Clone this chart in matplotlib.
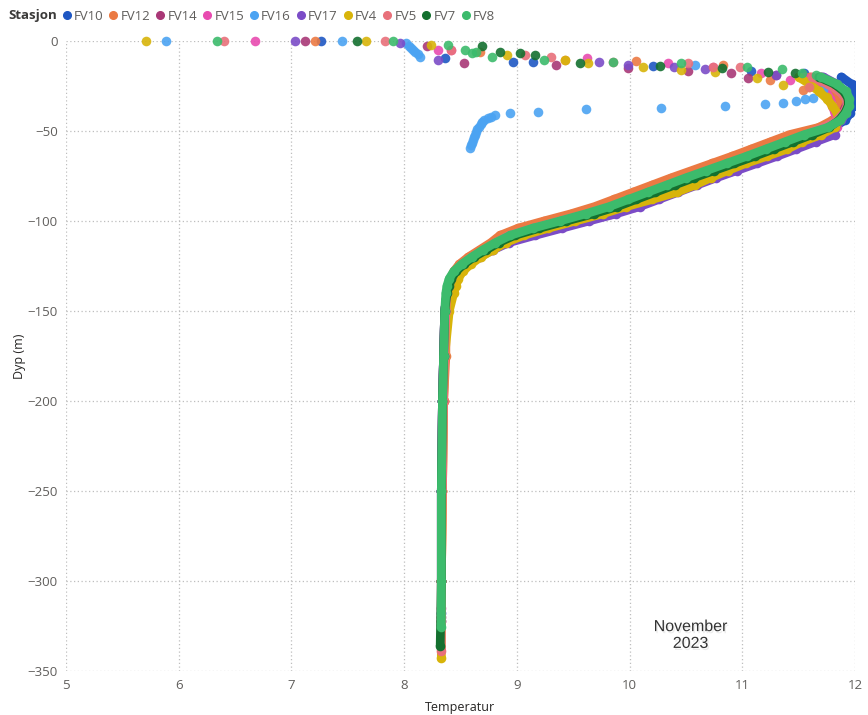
import matplotlib.pyplot as plt
import matplotlib.patheffects as pe
from matplotlib.lines import Line2D

plt.rcParams['font.family'] = ['Open Sans', 'DejaVu Sans']

stasjoner = ['FV10', 'FV12', 'FV14', 'FV15', 'FV16', 'FV17', 'FV4', 'FV5', 'FV7', 'FV8']
farger = ['#1F57C3', '#EB7A43', '#A93877', '#E84BB0', '#4BA3F2',
          '#7B4CC7', '#D8B40A', '#E8707A', '#14702F', '#3CBB6C']

# overflatelaget (0 til ca -30 m), enkeltmålinger
fv10_ov_t = [7.26, 8.36, 8.97, 9.14, 10.21, 11.08, 11.55]
fv10_ov_d = [0, -9.5, -11.5, -11.5, -13.9, -16.5, -18]
fv12_ov_t = [7.21, 8.67, 9.43, 10.06, 10.83, 11.25, 11.54, 11.68]
fv12_ov_d = [0, -5.9, -10.5, -11.2, -13.3, -21.7, -27, -23.5]
fv14_ov_t = [7.12, 8.20, 8.53, 9.35, 9.99, 10.52, 10.90, 11.05, 11.30]
fv14_ov_d = [0, -3, -12.4, -13.3, -15, -16.5, -18, -20.7, -18.9]
fv15_ov_t = [6.68, 8.30, 8.42, 9.62, 10.34, 10.74, 11.17, 11.42]
fv15_ov_d = [0, -5, -5, -9.6, -12.4, -14.3, -18, -21.7]
fv16_ov_t = [5.89, 7.45, 8.02, 8.04, 8.06, 8.08, 8.10, 8.12, 8.14, 10.58, 11.72,
             11.63, 11.56, 11.48, 11.36, 11.20, 10.85, 10.28, 9.61, 9.19, 8.94, 8.81,
             8.77, 8.74, 8.71, 8.69, 8.68, 8.66, 8.65, 8.64, 8.63, 8.62, 8.61, 8.60,
             8.59, 8.58]
fv16_ov_d = [0, 0, -1.3, -2.5, -3.8, -5, -6.2, -7.4, -8.7, -13.3, -27,
             -31.5, -32.4, -33.3, -34.3, -35.2, -36.1, -37, -38, -39.3, -40.2, -41,
             -42, -43, -44, -45, -46, -47.5, -49, -50.5, -52, -53.5, -55, -56.5,
             -58, -59.5]
fv17_ov_t = [7.03, 7.96, 8.30, 9.73, 9.99, 10.39, 10.67, 11.30]
fv17_ov_d = [0, -1, -10.5, -11.8, -13.3, -14.3, -15.7, -18.9]
fv4_ov_t = [5.71, 7.66, 8.24, 8.91, 9.43, 9.63, 10.12, 10.46, 10.76, 11.13, 11.36,
            11.59, 11.68, 11.75]
fv4_ov_d = [0, 0, -2.2, -7.8, -10.5, -12.4, -14.6, -16, -17, -20.7, -24.4,
            -25.4, -28, -31]
fv5_ov_t = [6.40, 7.83, 8.42, 9.07, 9.30, 9.85, 10.52, 10.74, 10.98, 11.59]
fv5_ov_d = [0, 0, -5, -7.8, -8.7, -11.5, -12.4, -14.3, -14.3, -25.4]
fv7_ov_t = [7.58, 8.69, 8.85, 9.03, 9.16, 9.56, 10.27, 10.82, 11.23, 11.47]
fv7_ov_d = [0, -3, -6, -6.8, -7.8, -12.4, -13.7, -15.2, -17, -17.6]
fv8_ov_t = [6.34, 7.90, 8.39, 8.54, 8.60, 8.64, 8.78, 9.24, 9.85, 10.46, 11.04,
            11.35, 11.53, 11.65]
fv8_ov_d = [0, 0, -2, -5, -6.8, -6, -8.7, -10.5, -11.5, -12.4, -14.3,
            -15.7, -17.6, -18.9]

# tett profil fra -20 m og ned
dyp_profil = [-20, -24, -28, -32, -36, -40, -44, -48, -52, -56, -60, -64, -68,
              -72, -76, -80, -84, -88, -92, -96, -100, -104, -108, -112, -116,
              -120, -124, -128, -132, -136, -140, -150, -175, -200, -250, -300]

fv10_profil = [11.88, 11.97, 12.00, 12.00, 11.99, 11.96, 11.91, 11.81,
               11.64, 11.47, 11.30, 11.13, 10.95, 10.77, 10.59, 10.42, 10.25, 10.08,
               9.91, 9.70, 9.46, 9.22, 9.00, 8.85, 8.74, 8.63, 8.54,
               8.46, 8.42, 8.40, 8.38, 8.36, 8.35, 8.34, 8.33, 8.33]
fv12_profil = [11.60, 11.70, 11.80, 11.86, 11.88, 11.86, 11.80, 11.68,
               11.42, 11.25, 11.08, 10.91, 10.73, 10.55, 10.37, 10.20, 10.03, 9.86,
               9.69, 9.48, 9.24, 9.01, 8.85, 8.77, 8.67, 8.57, 8.49,
               8.44, 8.41, 8.39, 8.38, 8.37, 8.37, 8.35, 8.34, 8.33]
fv14_profil = [11.70, 11.82, 11.90, 11.93, 11.92, 11.89, 11.84, 11.76,
               11.68, 11.51, 11.34, 11.17, 10.99, 10.81, 10.63, 10.46, 10.29, 10.12,
               9.95, 9.74, 9.50, 9.26, 9.04, 8.88, 8.76, 8.65, 8.55,
               8.47, 8.43, 8.40, 8.38, 8.36, 8.35, 8.34, 8.33, 8.33]
fv15_profil = [11.55, 11.68, 11.74, 11.78, 11.80, 11.82, 11.86, 11.84,
               11.77, 11.60, 11.43, 11.26, 11.08, 10.90, 10.72, 10.55, 10.38, 10.21,
               10.04, 9.83, 9.59, 9.35, 9.11, 8.90, 8.78, 8.66, 8.56,
               8.48, 8.43, 8.41, 8.38, 8.36, 8.35, 8.34, 8.33, 8.33]
fv17_profil = [11.72, 11.84, 11.91, 11.94, 11.94, 11.92, 11.88, 11.82,
               11.82, 11.65, 11.48, 11.31, 11.13, 10.95, 10.77, 10.60, 10.43, 10.26,
               10.09, 9.88, 9.64, 9.40, 9.16, 8.93, 8.79, 8.67, 8.57,
               8.48, 8.43, 8.40, 8.38, 8.36, 8.35, 8.34, 8.33, 8.33]
fv4_profil = [11.50, 11.60, 11.68, 11.75, 11.80, 11.84, 11.86, 11.82,
              11.70, 11.53, 11.40, 11.22, 11.03, 10.87, 10.72, 10.58, 10.42, 10.20,
              9.97, 9.76, 9.52, 9.28, 9.06, 8.90, 8.79, 8.68, 8.59,
              8.52, 8.48, 8.46, 8.44, 8.40, 8.36, 8.35, 8.34, 8.33]
fv5_profil = [11.62, 11.76, 11.86, 11.92, 11.93, 11.90, 11.84, 11.72,
              11.56, 11.39, 11.22, 11.05, 10.87, 10.69, 10.51, 10.34, 10.17, 10.00,
              9.83, 9.62, 9.38, 9.14, 8.93, 8.81, 8.71, 8.60, 8.51,
              8.45, 8.42, 8.40, 8.38, 8.37, 8.36, 8.35, 8.34, 8.33]
fv7_profil = [11.68, 11.82, 11.90, 11.94, 11.94, 11.91, 11.86, 11.77,
              11.62, 11.45, 11.28, 11.11, 10.93, 10.75, 10.57, 10.40, 10.23, 10.06,
              9.89, 9.68, 9.44, 9.20, 8.98, 8.84, 8.73, 8.62, 8.53,
              8.46, 8.42, 8.40, 8.38, 8.36, 8.35, 8.34, 8.33, 8.33]
fv8_profil = [11.70, 11.84, 11.92, 11.95, 11.95, 11.92, 11.87, 11.76,
              11.55, 11.38, 11.21, 11.04, 10.86, 10.68, 10.50, 10.33, 10.16, 9.99,
              9.82, 9.61, 9.38, 9.14, 8.94, 8.81, 8.70, 8.60, 8.51,
              8.44, 8.40, 8.38, 8.37, 8.36, 8.35, 8.34, 8.33, 8.33]

# siste måling (bunn) for hver stasjon, FV16 har ingen dyp profil
bunn_dyp = [-318, -322, -320, -315, None, -322, -343, -339, -336, -325.5]
bunn_temp = [8.33, 8.33, 8.33, 8.33, None, 8.33, 8.33, 8.33, 8.32, 8.33]

overflate = [(fv10_ov_t, fv10_ov_d), (fv12_ov_t, fv12_ov_d), (fv14_ov_t, fv14_ov_d),
             (fv15_ov_t, fv15_ov_d), (fv16_ov_t, fv16_ov_d), (fv17_ov_t, fv17_ov_d),
             (fv4_ov_t, fv4_ov_d), (fv5_ov_t, fv5_ov_d), (fv7_ov_t, fv7_ov_d),
             (fv8_ov_t, fv8_ov_d)]
profiler = [fv10_profil, fv12_profil, fv14_profil, fv15_profil, None, fv17_profil,
            fv4_profil, fv5_profil, fv7_profil, fv8_profil]

fig = plt.figure(figsize=(8.68, 7.15), dpi=100)
ax = fig.add_axes([66 / 868, 1 - 671 / 715, 789 / 868, 630 / 715])

ms = 48
for i, st in enumerate(stasjoner):
    c = farger[i]
    t, d = overflate[i]
    ax.scatter(t, d, s=ms, color=c, alpha=0.9, lw=0, zorder=3 + i, clip_on=False)
    if profiler[i] is not None:
        pt = profiler[i] + [bunn_temp[i]]
        pd_ = dyp_profil + [bunn_dyp[i]]
        ax.plot(pt, pd_, color=c, lw=6.3, solid_capstyle='round',
                solid_joinstyle='round', zorder=3 + i)
        ax.scatter(pt, pd_, s=ms, color=c, lw=0, zorder=3 + i)

ax.set_xlim(5, 12)
ax.set_ylim(-350, 0)
ax.set_xticks(range(5, 13))
ax.set_yticks(range(-350, 1, 50))
for s in ax.spines.values():
    s.set_visible(False)
ax.grid(True, color='#BEBEBE', linestyle=(0, (1, 2)), lw=0.9)
ax.set_axisbelow(True)
ax.tick_params(length=0, labelsize=9.5, labelcolor='#605E5C', pad=6)
ax.set_xlabel('Temperatur', fontsize=9, color='#252423', labelpad=6)
ax.set_ylabel('Dyp (m)', fontsize=9, color='#252423', labelpad=1)

# tekst med svak skygge
ax.text(10.54, -330, 'November\n2023', ha='center', va='center', fontsize=11.5,
        family=['Liberation Sans'], color='#333333', linespacing=1.15,
        path_effects=[pe.SimplePatchShadow(offset=(1, -1.5), shadow_rgbFace='#999999',
                                           alpha=0.18), pe.Normal()], zorder=20)

# forklaring øverst
fig.text(8 / 868, 1 - 16 / 715, 'Stasjon', fontsize=9.5, fontweight='bold',
         color='#3B3A39', va='center', ha='left')
handles = [Line2D([], [], marker='o', ls='', color=c, ms=5.5) for c in farger]
fig.legend(handles, stasjoner, loc='center left', bbox_to_anchor=(60 / 868, 1 - 16 / 715),
           ncol=10, frameon=False, handletextpad=0.05, columnspacing=0.25,
           handlelength=1.0, borderpad=0, borderaxespad=0, fontsize=9.5,
           labelcolor='#605E5C')

fig.savefig('out.png', dpi=100)
